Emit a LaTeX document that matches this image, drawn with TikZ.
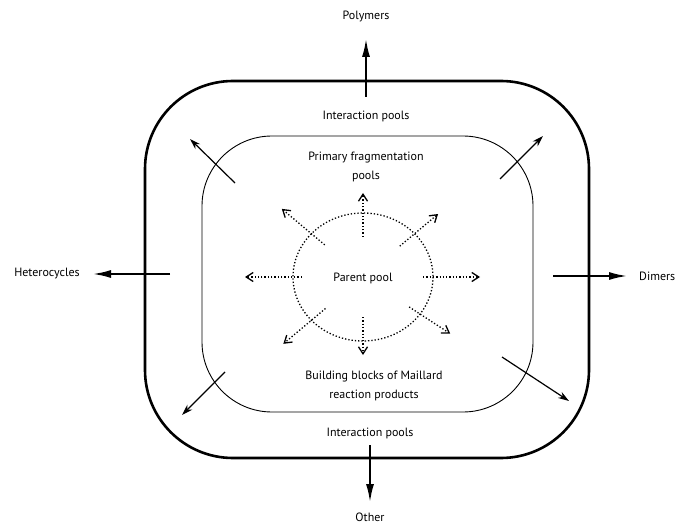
\documentclass[tikz,border=0pt]{standalone}
\usepackage{fontspec}
\setmainfont{PT Sans}
\usetikzlibrary{arrows.meta}

\begin{document}
\begin{tikzpicture}[x=1pt, y=-1pt, font=\fontsize{12}{19.5}\selectfont,
		lbl/.style={align=center, inner sep=1pt},
		outflow/.style={-{Latex[length=19pt, width=8pt]}, line width=2.4pt},
		spread/.style={-{Stealth[length=11pt, width=7pt]}, line width=1.2pt},
		frag/.style={dotted, line width=1.3pt, -{Straight Barb[length=7pt, width=9pt]}}]
	\useasboundingbox (0,0) rectangle (687,526);

	\draw [line width=2.6pt, rounded corners=88pt] (145,81) rectangle (589,458);
	\draw [line width=0.9pt, rounded corners=70pt] (202,136) rectangle (533,412);
	\draw [dotted, line width=1.3pt] (363,277) ellipse [x radius=70, y radius=64];

	\node [lbl] (poly)   at (366,16)  {Polymers};
	\node [lbl] (inttop) at (366,116) {Interaction pools};
	\node [lbl] (prim)   at (366,167) {Primary fragmentation\\pools};
	\node [lbl] (parent) at (363,278) {Parent pool};
	\node [lbl] (build)  at (374,386) {Building blocks of Maillard\\reaction products};
	\node [lbl] (intbot) at (370,433) {Interaction pools};
	\node [lbl] (other)  at (370,517) {Other};
	\node [lbl] (het)    at (47,274)  {Heterocycles};
	\node [lbl, anchor=west] (dim) at (638,276) {Dimers};

	\coordinate (p1) at (366,97);  \coordinate (p2) at (366,38);
	\coordinate (o1) at (370,445); \coordinate (o2) at (370,503);
	\coordinate (h1) at (170,274); \coordinate (h2) at (92,274);
	\coordinate (d1) at (553,276); \coordinate (d2) at (628,276);

	\draw [outflow] (p1) -- (p2);
	\draw [outflow] (o1) -- (o2);
	\draw [outflow] (h1) -- (h2);
	\draw [outflow] (d1) -- (d2);

	\coordinate (ul1) at (235,183); \coordinate (ul2) at (190,139);
	\coordinate (ur1) at (500,179); \coordinate (ur2) at (543,136);
	\coordinate (ll1) at (225,372); \coordinate (ll2) at (182,415);
	\coordinate (lr1) at (502,357); \coordinate (lr2) at (569,401);

	\draw [spread] (ul1) -- (ul2);
	\draw [spread] (ur1) -- (ur2);
	\draw [spread] (ll1) -- (ll2);
	\draw [spread] (lr1) -- (lr2);

	\foreach \a/\ri/\ro [count=\i] in {0/60/117, -40/48/98, -90/40/84, -140/50/106,
			180/61/118, 140/49/104, 90/40/78, 33/55/104} {
		\coordinate (f\i a) at ([shift={(363,277)}]\a:\ri);
		\coordinate (f\i b) at ([shift={(363,277)}]\a:\ro);
		\draw [frag] (f\i a) -- (f\i b);
	}
\end{tikzpicture}
\end{document}
